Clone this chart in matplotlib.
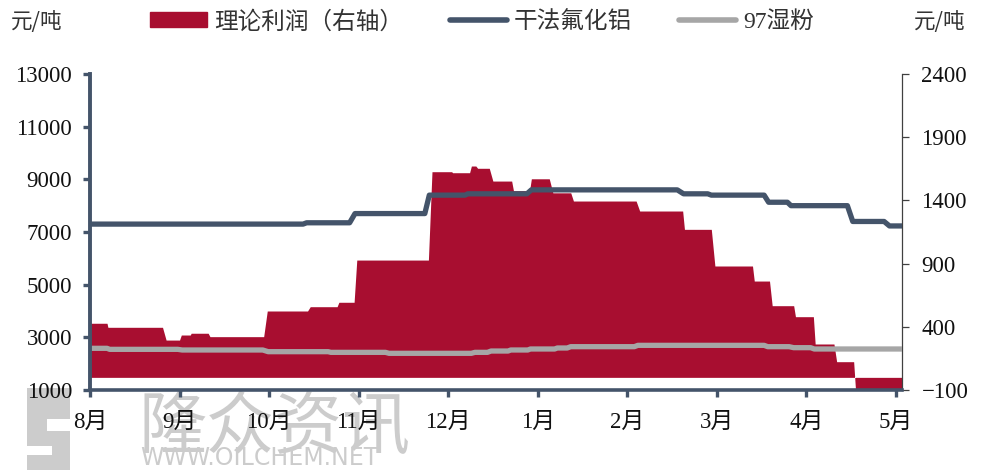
import numpy as np
import matplotlib.pyplot as plt
from matplotlib.patches import Patch, Rectangle
from matplotlib.lines import Line2D

plt.rcParams['font.family'] = ['Liberation Serif', 'Noto Sans CJK SC']

months = ['8月', '9月', '10月', '11月', '12月', '1月', '2月', '3月', '4月', '5月']

# theoretical profit (right axis), flat segments: start / end in month units, value
profit_start = [0.00, 0.20, 0.85, 1.02, 1.13, 1.34, 1.98, 2.46, 2.78, 2.98, 3.82, 4.05, 4.26, 4.33,
                4.50, 4.73, 4.93, 5.17, 5.40, 6.14, 6.64, 6.98, 7.42, 7.62, 7.88, 8.10, 8.34, 8.55]
profit_end = [0.19, 0.81, 1.00, 1.12, 1.32, 1.94, 2.43, 2.76, 2.95, 3.78, 4.04, 4.24, 4.31, 4.46,
              4.71, 4.91, 5.13, 5.37, 6.10, 6.62, 6.94, 7.40, 7.59, 7.86, 8.08, 8.31, 8.53, 9.07]
profit_val = [428, 396, 295, 335, 349, 322, 525, 559, 594, 928, 1627, 1619, 1672, 1654,
              1553, 1477, 1571, 1460, 1395, 1316, 1171, 881, 762, 567, 480, 264, 124, -90]

# dry-process aluminium fluoride (left axis)
dry_start = [0.00, 2.42, 2.96, 3.79, 4.22, 4.93, 6.63, 6.94, 7.58, 7.83, 8.52, 8.93]
dry_end = [2.38, 2.90, 3.74, 4.19, 4.88, 6.56, 6.90, 7.53, 7.79, 8.46, 8.87, 9.07]
dry_val = [7300, 7350, 7700, 8400, 8450, 8600, 8450, 8400, 8130, 8000, 7400, 7230]

# 97 wet powder (left axis)
wet_start = [0.00, 0.22, 1.03, 1.99, 2.69, 3.34, 4.30, 4.48, 4.70, 4.92, 5.22, 5.37,
             6.12, 7.57, 7.86, 8.09]
wet_end = [0.19, 0.98, 1.93, 2.66, 3.30, 4.26, 4.44, 4.67, 4.89, 5.19, 5.33, 6.08,
           7.53, 7.81, 8.05, 9.07]
wet_val = [2583, 2544, 2519, 2455, 2430, 2393, 2430, 2480, 2519, 2557, 2595, 2645,
           2696, 2645, 2607, 2557]


def steps(starts, ends, vals):
    x = np.ravel(np.column_stack([starts, ends]))
    y = np.repeat(vals, 2)
    return x, y


red = '#A80E30'
navy = '#44546A'
grey = '#A6A6A6'

fig = plt.figure(figsize=(9.86, 4.7), dpi=100)
ax = fig.add_axes([90 / 986, 1 - 390 / 470, 812 / 986, 316 / 470])
ax2 = ax.twinx()
ax.set_zorder(ax2.get_zorder() + 1)
ax.patch.set_visible(False)
ax2.patch.set_visible(False)

px, py = steps(profit_start, profit_end, profit_val)
ax2.fill_between(px, 0, py, color=red, lw=0)

dx, dy = steps(dry_start, dry_end, dry_val)
ax.plot(dx, dy, color=navy, lw=3.8, solid_capstyle='butt', solid_joinstyle='round')
wx, wy = steps(wet_start, wet_end, wet_val)
ax.plot(wx, wy, color=grey, lw=3.8, solid_capstyle='butt', solid_joinstyle='round')

ax.set_xlim(0, 9.07)
ax.set_ylim(1000, 13000)
ax.set_yticks(range(1000, 13001, 2000))
ax2.set_ylim(-100, 2400)
ax2.set_yticks(range(-100, 2401, 500))
ax.set_xticks(range(len(months)))
ax.set_xticklabels(months)

for s in ['top', 'right']:
    ax.spines[s].set_visible(False)
for s in ['top', 'left', 'bottom']:
    ax2.spines[s].set_visible(False)
ax.spines['left'].set_color(navy)
ax.spines['left'].set_linewidth(2.8)
ax.spines['bottom'].set_color(navy)
ax.spines['bottom'].set_linewidth(2.6)
ax2.spines['right'].set_color('#404040')
ax2.spines['right'].set_linewidth(0.9)

ax.tick_params(axis='both', direction='out', length=5, width=2.4, color=navy,
               labelsize=16.5, labelcolor='#111111')
ax.tick_params(axis='y', pad=8)
ax.tick_params(axis='x', pad=11)
ax2.tick_params(axis='y', direction='out', length=5, width=0.9, color='#404040',
                labelsize=16.5, labelcolor='#111111', pad=9)

# unit labels
fig.text(37 / 986, 1 - 22 / 470, '元/吨', ha='center', va='center', fontsize=15.5,
         color='#333333', family=['Noto Sans CJK SC'])
fig.text(940 / 986, 1 - 22 / 470, '元/吨', ha='center', va='center', fontsize=15.5,
         color='#333333', family=['Noto Sans CJK SC'])

handles = [Patch(color=red),
           Line2D([], [], color=navy, lw=4, solid_capstyle='round'),
           Line2D([], [], color=grey, lw=4, solid_capstyle='round')]
labels = ['理论利润（右轴）', '干法氟化铝', '97湿粉']
fig.legend(handles, labels, loc='center', bbox_to_anchor=(482 / 986, 1 - 22 / 470), ncol=3,
           frameon=False, handlelength=2.4, handleheight=0.6,
           handletextpad=0.3, columnspacing=2.0, labelcolor='#333333',
           prop={'family': ['Liberation Serif', 'Noto Sans CJK SC'], 'size': 17})

# watermark
wm = '#CCCCCC'
fig.text(138 / 986, 1 - 448 / 470, '隆众资讯', fontsize=49, color=wm, ha='left', va='baseline',
         family=['Noto Sans CJK SC'], zorder=-1)
fig.text(140 / 986, 1 - 465 / 470, 'WWW.OILCHEM.NET', fontsize=17, color=wm, ha='left',
         va='baseline', family=['DejaVu Sans'], zorder=-1)
for (x0, y0, w, h, c) in [(27, 388, 43, 82, wm), (47, 419, 23, 12, 'white'),
                          (27, 446, 25, 9, 'white')]:
    fig.add_artist(Rectangle((x0 / 986, 1 - (y0 + h) / 470), w / 986, h / 470,
                             transform=fig.transFigure, color=c, lw=0, zorder=-1))

fig.savefig('out.png', dpi=100)
